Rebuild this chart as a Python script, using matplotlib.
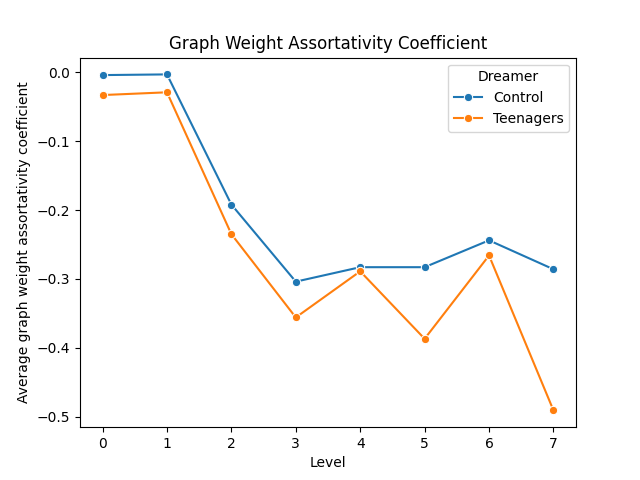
import numpy as np
import pandas as pd
import matplotlib
matplotlib.use('Agg')
import matplotlib.pyplot as plt
import seaborn as sns

levels = [0, 1, 2, 3, 4, 5, 6, 7]
control = [-0.004, -0.003, -0.192, -0.304, -0.283, -0.283, -0.244, -0.286]
teenagers = [-0.033, -0.029, -0.235, -0.356, -0.289, -0.387, -0.266, -0.491]

df = pd.DataFrame({
    'Level': levels * 2,
    'value': control + teenagers,
    'Dreamer': ['Control'] * len(levels) + ['Teenagers'] * len(levels),
})

fig, ax = plt.subplots(figsize=(6.4, 4.8))
sns.lineplot(data=df, x='Level', y='value', hue='Dreamer', marker='o', ax=ax)
ax.set_title('Graph Weight Assortativity Coefficient')
ax.set_xlabel('Level')
ax.set_ylabel('Average graph weight assortativity coefficient')

fig.savefig('out.png', dpi=100)
